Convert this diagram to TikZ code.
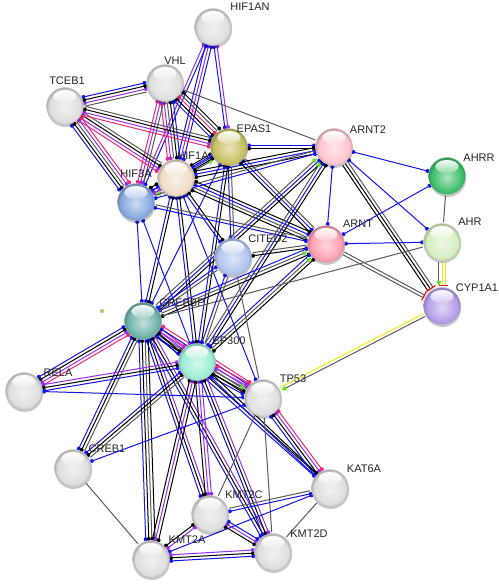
\documentclass[tikz,border=0pt]{standalone}
\usepackage{fontspec}
\setmainfont{Liberation Sans}
\usetikzlibrary{calc,shadows,arrows.meta}
\pgfdeclarelayer{bg}
\pgfsetlayers{bg,main}
\colorlet{sphcol}{white}
\pgfdeclareradialshading[sphcol]{sphere}{\pgfpoint{0bp}{-2bp}}{%
  color(0bp)=(sphcol!40!white); color(12bp)=(sphcol!75!white); color(21bp)=(sphcol);
  color(25bp)=(sphcol!80!black); color(50bp)=(sphcol!80!black)}
\definecolor{cgrey}{HTML}{DEDEDE}
\definecolor{cepas}{HTML}{C6BF60}
\definecolor{chif1a}{HTML}{EFDCC6}
\definecolor{chif3a}{HTML}{86A8DE}
\definecolor{carnt2}{HTML}{FFC4CE}
\definecolor{cahrr}{HTML}{3CBD68}
\definecolor{cahr}{HTML}{D5EEC0}
\definecolor{carnt}{HTML}{FF9DB0}
\definecolor{ccyp}{HTML}{B49DE8}
\definecolor{ccited}{HTML}{AFC3EE}
\definecolor{ccrebbp}{HTML}{6DB2A7}
\definecolor{cep300}{HTML}{9CEED4}
\definecolor{lblue}{HTML}{1414EE}
\definecolor{lgrey}{HTML}{5A5A5A}
\definecolor{lpurp}{HTML}{9630EE}
\definecolor{lpink}{HTML}{F0287A}
\definecolor{lyell}{HTML}{EEEE10}
\definecolor{lgreen}{HTML}{66E020}
\definecolor{lred}{HTML}{F01818}
\tikzset{
  sph/.style={circle, inner sep=0pt, minimum size=37pt, draw=#1!60!black!45, line width=0.4pt,
    drop shadow={shadow xshift=0.6pt, shadow yshift=-2.5pt, opacity=0.22, fill=black},
    path picture={
      \colorlet{sphcol}{#1}
      \shade[shading=sphere] (path picture bounding box.center) circle (18.5pt);
      \shade[top color=white, bottom color=#1!55!white, opacity=0.95]
        ([yshift=9.5pt]path picture bounding box.center) ellipse (11.5pt and 6.5pt);
    }},
  lbl/.style={font=\fontsize{11}{13}\selectfont, inner sep=0pt, text=black!85},
  eb/.style={draw=lblue, fill=lblue},
  ek/.style={draw=black, fill=black},
  eg/.style={draw=lgrey, fill=none},
  ep/.style={draw=lpurp, fill=lpurp},
  er/.style={draw=lpink, fill=lpink},
  ey/.style={draw=lyell, fill=none},
  gA/.style={draw=lgrey, fill=none, -{Triangle[length=5pt, width=5pt, color=lgreen]}},
  gB/.style={draw=lgrey, fill=none, -{Bar[width=6pt, line width=1.2pt, color=lred]}},
  kB/.style={draw=black, fill=none, -{Bar[width=6pt, line width=1.2pt, color=lred]}},
  yB/.style={draw=lyell, fill=none, -{Bar[width=6pt, line width=1.2pt, color=lred]}},
}
\newcommand{\edg}[3]{%
  \xdef\ncol{0}%
  \foreach \c in {#3}{\xdef\ncol{\the\numexpr\ncol+1\relax}}%
  \foreach \c [count=\i] in {#3}{%
    \pgfmathsetmacro{\off}{(\i-(\ncol+1)/2)*3.1}%
    \path let \p1=(#1.center), \p2=(#2.center), \n1={atan2(\y2-\y1,\x2-\x1)} in
      coordinate (s) at ($(\p1)+(\n1:20pt)+(\n1+90:\off pt)$)
      coordinate (e) at ($(\p2)+(\n1+180:20pt)+(\n1+90:\off pt)$);
    \draw[\c, fill=none, line width=1pt] (s) -- (e);
    \path[\c, draw=none] (s) circle (2pt) (e) circle (2pt);
  }%
}
\begin{document}
\begin{tikzpicture}[x=1pt,y=-1pt]
\useasboundingbox (0,0) rectangle (498,588);
% nodes
\node[sph=cgrey] (HIF1AN) at (213,27) {};
\node[sph=cgrey] (VHL) at (165,83) {};
\node[sph=cgrey] (TCEB1) at (65,106) {};
\node[sph=cepas] (EPAS1) at (229,147) {};
\node[sph=chif1a] (HIF1A) at (176,178) {};
\node[sph=chif3a] (HIF3A) at (136,202) {};
\node[sph=carnt2] (ARNT2) at (334,147) {};
\node[sph=cahrr] (AHRR) at (447,176) {};
\node[sph=cahr] (AHR) at (442,242) {};
\node[sph=carnt] (ARNT) at (326,244) {};
\node[sph=ccyp] (CYP1A1) at (442,306) {};
\node[sph=ccited] (CITED2) at (233,257) {};
\node[sph=ccrebbp] (CREBBP) at (143,321) {};
\node[sph=cep300] (EP300) at (197,362) {};
\node[sph=cgrey] (RELA) at (24,391) {};
\node[sph=cgrey] (TP53) at (263,398) {};
\node[sph=cgrey] (CREB1) at (73,468) {};
\node[sph=cgrey] (KAT6A) at (330,488) {};
\node[sph=cgrey] (KMT2C) at (210,514) {};
\node[sph=cgrey] (KMT2D) at (273,552) {};
\node[sph=cgrey] (KMT2A) at (151,559) {};
\fill[cepas!90] (102,311) circle (2.2pt);
% labels
\node[lbl] (lHIF1AN) at (250,7) {HIF1AN};
\node[lbl] (lVHL) at (175,61) {VHL};
\node[lbl] (lTCEB1) at (67,81) {TCEB1};
\node[lbl] (lEPAS1) at (254,129) {EPAS1};
\node[lbl] (lHIF1A) at (193,156) {HIF1A};
\node[lbl] (lHIF3A) at (136,174) {HIF3A};
\node[lbl] (lARNT2) at (368,130) {ARNT2};
\node[lbl] (lAHRR) at (479,158) {AHRR};
\node[lbl] (lAHR) at (470,222) {AHR};
\node[lbl] (lARNT) at (358,224) {ARNT};
\node[lbl] (lCYP1A1) at (477,288) {CYP1A1};
\node[lbl] (lCITED2) at (268,239) {CITED2};
\node[lbl] (lCREBBP) at (182,303) {CREBBP};
\node[lbl] (lEP300) at (229,341) {EP300};
\node[lbl] (lRELA) at (58,373) {RELA};
\node[lbl] (lTP53) at (293,379) {TP53};
\node[lbl] (lCREB1) at (107,449) {CREB1};
\node[lbl] (lKAT6A) at (364,469) {KAT6A};
\node[lbl] (lKMT2C) at (244,495) {KMT2C};
\node[lbl] (lKMT2D) at (309,534) {KMT2D};
\node[lbl] (lKMT2A) at (187,540) {KMT2A};
\begin{pgfonlayer}{bg}
\fill[white] (0,0) rectangle (498,588);
\edg{TCEB1}{VHL}{eg,ep,ek,eb}
\edg{HIF1AN}{HIF1A}{eb,ep,eb}
\edg{HIF1AN}{EPAS1}{eb,ep}
\edg{HIF1AN}{HIF3A}{ep,eb}
\edg{VHL}{HIF1A}{er,ep,eg,ek,eb}
\edg{VHL}{EPAS1}{eb,ek,er,eg,ek}
\edg{VHL}{HIF3A}{er,ep,eg}
\edg{VHL}{ARNT2}{eg}
\edg{TCEB1}{HIF1A}{er,ep,ek,eg}
\edg{TCEB1}{EPAS1}{er,ep,ek,eg}
\edg{TCEB1}{HIF3A}{eb,ek,eg,ep,er}
\edg{EPAS1}{ARNT2}{ek,eb}
\edg{EPAS1}{ARNT}{ek,eb,eg}
\edg{HIF1A}{EPAS1}{gA,eb,ek}
\edg{EPAS1}{HIF3A}{eb,ek}
\edg{EPAS1}{CITED2}{eb,eg}
\edg{EPAS1}{CREBBP}{eb}
\edg{EPAS1}{EP300}{eb,ek}
\edg{HIF1A}{ARNT2}{ek,eb,ek}
\edg{HIF1A}{ARNT}{ek,eg,eb,ek}
\edg{HIF1A}{HIF3A}{ek,eb,ep,gA}
\edg{HIF1A}{CITED2}{eb,ek}
\edg{HIF1A}{CREBBP}{eb,ek}
\edg{HIF1A}{EP300}{eb,ek}
\edg{HIF1A}{TP53}{eb}
\edg{HIF3A}{ARNT}{eb,eg}
\edg{HIF3A}{ARNT2}{eb,eg}
\edg{HIF3A}{CREBBP}{eb}
\edg{HIF3A}{EP300}{eb}
\edg{ARNT2}{AHRR}{eb}
\edg{ARNT2}{AHR}{eb}
\edg{ARNT2}{CYP1A1}{kB,kB,gB}
\edg{ARNT2}{ARNT}{eb}
\edg{CREBBP}{ARNT2}{ek,eb,gA}
\edg{EP300}{ARNT2}{ek,eb,gA}
\edg{ARNT}{AHRR}{eb}
\edg{ARNT}{AHR}{eb}
\edg{ARNT}{CYP1A1}{gB,gB}
\edg{ARNT}{CITED2}{eg,ek}
\edg{CREBBP}{ARNT}{ek,gA,eb}
\edg{EP300}{ARNT}{ek,gA,eb}
\edg{AHRR}{AHR}{eg}
\edg{AHR}{CYP1A1}{gA,yB,yB}
\edg{AHR}{CREBBP}{eg}
\edg{CYP1A1}{TP53}{ey,gA}
\edg{CITED2}{CREBBP}{eb,eg}
\edg{CITED2}{EP300}{eb,eg}
\edg{CITED2}{TP53}{eg}
\edg{CREBBP}{EP300}{eb,ek,ep,er}
\edg{CREBBP}{RELA}{eb,ek,ep,er}
\edg{CREBBP}{TP53}{ek,eg,ep,eb,er}
\edg{CREBBP}{CREB1}{eb,ek,eg}
\edg{CREBBP}{KMT2A}{eb,ek,eg,ek}
\edg{CREBBP}{KMT2C}{eb,ek,ep}
\edg{CREBBP}{KMT2D}{eb,ek,ep}
\edg{CREBBP}{KAT6A}{eb,ek}
\edg{EP300}{RELA}{ep,ek,eb}
\edg{EP300}{TP53}{eb,ek,gA,ep,er}
\edg{EP300}{CREB1}{eb,ek,eg}
\edg{EP300}{KMT2A}{ek,ep,ek}
\edg{EP300}{KMT2C}{ek,ep,ep}
\edg{EP300}{KMT2D}{eb,ek,ep}
\edg{EP300}{KAT6A}{eb,ek}
\edg{RELA}{TP53}{eb}
\edg{CREB1}{TP53}{eb}
\edg{CREB1}{KMT2A}{eg}
\edg{TP53}{KAT6A}{eb,ek,ep,er}
\edg{TP53}{KMT2C}{eg}
\edg{TP53}{KMT2D}{eg}
\edg{KAT6A}{KMT2C}{eg,eb}
\edg{KAT6A}{KMT2D}{eg}
\edg{KAT6A}{KMT2A}{eb}
\edg{KMT2C}{KMT2A}{ek,ep}
\edg{KMT2C}{KMT2D}{ek,ep,eb}
\edg{KMT2A}{KMT2D}{eb,ek,ep}
\end{pgfonlayer}
\end{tikzpicture}
\end{document}
